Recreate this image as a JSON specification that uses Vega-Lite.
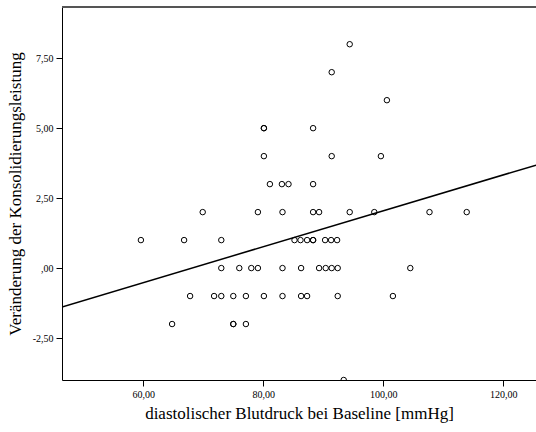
{
  "$schema": "https://vega.github.io/schema/vega-lite/v6.json",
  "width": 474,
  "height": 373,
  "autosize": "none",
  "padding": {"left": 62, "top": 7, "right": 0, "bottom": 52},
  "background": "white",
  "config": {
    "view": {"stroke": null},
    "font": "Liberation Serif",
    "axis": {"grid": false, "domainColor": "black", "tickColor": "black", "labelColor": "black", "titleColor": "black", "labelFont": "Liberation Serif", "titleFont": "Liberation Serif", "titleFontWeight": "normal"}
  },
  "datasets": {
    "pts": [
      {"bp": 94.4, "chg": 8},
      {"bp": 91.4, "chg": 7},
      {"bp": 100.6, "chg": 6},
      {"bp": 80.1, "chg": 5}, {"bp": 80.1, "chg": 5}, {"bp": 88.3, "chg": 5},
      {"bp": 80.1, "chg": 4}, {"bp": 91.4, "chg": 4}, {"bp": 99.6, "chg": 4},
      {"bp": 81.1, "chg": 3}, {"bp": 83.1, "chg": 3}, {"bp": 84.2, "chg": 3}, {"bp": 88.3, "chg": 3},
      {"bp": 69.9, "chg": 2}, {"bp": 79.1, "chg": 2}, {"bp": 83.2, "chg": 2}, {"bp": 88.3, "chg": 2}, {"bp": 89.3, "chg": 2}, {"bp": 94.4, "chg": 2}, {"bp": 98.5, "chg": 2}, {"bp": 107.7, "chg": 2}, {"bp": 113.9, "chg": 2},
      {"bp": 59.6, "chg": 1}, {"bp": 66.8, "chg": 1}, {"bp": 73.0, "chg": 1}, {"bp": 85.2, "chg": 1}, {"bp": 86.2, "chg": 1}, {"bp": 87.3, "chg": 1}, {"bp": 88.3, "chg": 1}, {"bp": 88.3, "chg": 1}, {"bp": 90.3, "chg": 1}, {"bp": 91.3, "chg": 1}, {"bp": 92.3, "chg": 1},
      {"bp": 73.0, "chg": 0}, {"bp": 76.0, "chg": 0}, {"bp": 78.0, "chg": 0}, {"bp": 79.1, "chg": 0}, {"bp": 83.2, "chg": 0}, {"bp": 86.3, "chg": 0}, {"bp": 89.3, "chg": 0}, {"bp": 90.4, "chg": 0}, {"bp": 91.4, "chg": 0}, {"bp": 92.4, "chg": 0}, {"bp": 104.5, "chg": 0},
      {"bp": 67.8, "chg": -1}, {"bp": 71.8, "chg": -1}, {"bp": 73.0, "chg": -1}, {"bp": 75.0, "chg": -1}, {"bp": 77.1, "chg": -1}, {"bp": 80.1, "chg": -1}, {"bp": 83.2, "chg": -1}, {"bp": 86.3, "chg": -1}, {"bp": 87.3, "chg": -1}, {"bp": 92.4, "chg": -1}, {"bp": 101.6, "chg": -1},
      {"bp": 64.8, "chg": -2}, {"bp": 75.0, "chg": -2}, {"bp": 75.0, "chg": -2}, {"bp": 77.1, "chg": -2},
      {"bp": 93.4, "chg": -4}
    ],
    "fit": [
      {"bp": 46.45, "chg": -1.39},
      {"bp": 125.45, "chg": 3.68}
    ],
    "top": [{"chg": 9.33}]
  },
  "layer": [
    {
      "data": {"name": "pts"},
      "mark": {"type": "point", "shape": "circle", "filled": false, "color": "black", "strokeWidth": 1, "size": 30, "opacity": 1, "clip": true},
      "encoding": {
        "x": {
          "field": "bp", "type": "quantitative",
          "scale": {"domain": [46.45, 125.45], "nice": false, "zero": false},
          "axis": {
            "values": [60, 80, 100, 120],
            "title": "diastolischer Blutdruck bei Baseline [mmHg]",
            "titleFont": "Liberation Serif",
            "titleFontSize": 17,
            "titlePadding": 6,
            "labelFont": "Liberation Serif",
            "labelFontSize": 10,
            "labelPadding": 3,
            "tickSize": 6,
            "labelExpr": "replace(format(datum.value, '.2f'), '.', ',')"
          }
        },
        "y": {
          "field": "chg", "type": "quantitative",
          "scale": {"domain": [-4, 9.33], "nice": false, "zero": false},
          "axis": {
            "values": [-2.5, 0, 2.5, 5, 7.5],
            "title": "Veränderung der Konsolidierungsleistung",
            "titleFont": "Liberation Serif",
            "titleFontSize": 17,
            "titlePadding": 8,
            "labelFont": "Liberation Serif",
            "labelFontSize": 10,
            "labelPadding": 3,
            "tickSize": 6,
            "labelExpr": "datum.value == 0 ? ',00' : (datum.value < 0 ? '-' : '') + replace(format(abs(datum.value), '.2f'), '.', ',')"
          }
        }
      }
    },
    {
      "data": {"name": "fit"},
      "mark": {"type": "line", "color": "black", "strokeWidth": 1.5, "clip": true},
      "encoding": {
        "x": {"field": "bp", "type": "quantitative"},
        "y": {"field": "chg", "type": "quantitative"}
      }
    },
    {
      "data": {"name": "top"},
      "mark": {"type": "rule", "color": "#555555", "strokeWidth": 2},
      "encoding": {
        "y": {"field": "chg", "type": "quantitative"}
      }
    }
  ]
}
